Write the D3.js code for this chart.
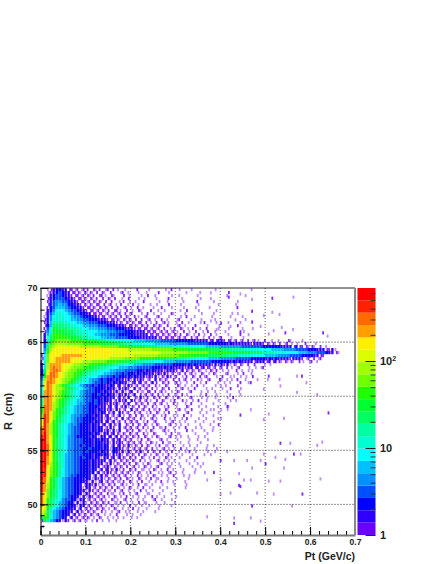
<!DOCTYPE html>
<html>
<head>
<meta charset="utf-8">
<script src="https://cdnjs.cloudflare.com/ajax/libs/d3/7.9.0/d3.min.js"></script>
<style>
  body { margin: 0; background: #fff; }
  text { font-family: "Liberation Sans", Arial, sans-serif; font-weight: bold; fill: #222; }
</style>
</head>
<body>
<div id="chart"></div>
<script>
// colour bands, lowest first
const levelChars = ["1","2","3","4","5","6","7","8","9","a","b","c","d","e","f","g","h","i","j","k"];
const levelColors = ["#6a00ff","#3000ff","#0000ff","#0050ff","#0090ff","#00c0ff","#00ffff","#00ffd0","#00ffa0","#00ff60",
  "#00ff30","#20ff00","#70ff00","#a0ff00","#dcff00","#ffee00","#ffa000","#ff6a00","#ff2000","#ff0000"];

const xTicks = [0, 0.1, 0.2, 0.3, 0.4, 0.5, 0.6, 0.7];
const yTicks = [50, 55, 60, 65, 70];
const zMinor = [2,3,4,5,6,7,8,9,20,30,40,50,60,70,80,90,200,300,400,500,600];
const zMajor = [1, 10, 100];

const ptBin = 0.00667;
const rBin = 0.2773;

// histogram, one string per R row from R=70 down.
// "." empty, "," a faint single count, otherwise the colour band
const rows = [
"..,12332211,1,11.1,1.,1.1,..,...1...,....,.1..,...,.......,...........,",
"..,1234322111,1,1,1.1,.1..,1.,..,..,...1..,.....,....,........1",
"..,2344322111,11,1.11,.1,..1.,...,.1..,....,..,.....,.........,.....,",
"..1234443221111,1,1.1.1,1..,.1..,.,...,...1....,.....,..,",
"..1245544322111,11,1,1.1..,1.,.,..1....,..,....,....1....,.......,",
"..1245655332211,1,11.1,1.,1..,1.,...,.,...1...,.....,......,.....,",
"..1346665433221111,1,1,1.1.,1.,.1.,..,..1..,...,...,....,........1",
"..2357776544322111,11,1.11,.1.,.1,..1..,.,....,.1...,.....,",
".,2468877654433221111,1,1,1.1,1..,.1.,..,..1,...,....,...,.......,",
".,25788877655433322111,1,11.1,.1,.,1..,1..,...,.1..,.....,.....,...,",
".1258888776655443332221111,1,1,1.1.,1.,.1.,..,1...,..,....,.........,",
".12699998877665544433322211,1,1,11.1,.1.,1,..,.1.,...,1...,...,...,",
".136aaa9998877665554443332221111,1,1.1,1,.1..,1.,..1...,...,.....1",
".147baaaa999887766655544433322211111,1,1.1.,1.1,.,1..,.1...,..,....,..,",
".158bbbbaaa9988877766655544433322221111,1,1,1,.1.,.1..,1..,..,.....,",
".269cccbbbaa99887766555444333332222211111,1,1,1.1,.,1.,.1.,...,...1..,",
".27acccccbbbaa9988776655544443333222222111111,1,1.1,1.,.1,.,1..,...,",
".38bcdddddcccccbbbbaaa999888777666655555444443333332222212122111,1,1.1,1,.1..,.,..1,...,",
".49cdeeeedddddccccccbbbbbaaa999888777766666555555444444433333323222222122211,1,1.,1,.,..1..,",
".4adeffffffffeeeeeeeddddddccccbbbbbaaaa99999888888777776666655555554444444333333222212111,1,.1.,",
".5befgggggggggggggggggfffffffeeeeeeeedddddddcccccbbbbbbbbaaaaaa99999888887777666655554444333222112,",
".6cfgggggggggggggggggggggggggfffffffffffeeeeeeeeedddddddccccccccbbbbbbaaaa9999888877776665554443221,",
"17dgggghhhhhhhgggggggggffffffffeeeeeeeedddddddcccccbbbbbaaaaaa999988888777766665555444433332211",
"17dgghhhhhggggggggfffffeeeeedddddcccccbbbbaaaa999888777766665555544444333332323222212221,1.1,1",
"18dgghhhhhgfffeeedddddccccbbbaaa999888777666655555444444433333323232222122212121,1,1,.1,.,1.,",
"28ehhhhggffeedddcccbbbaa998877766655554444443333232322222121212,1,1,.1.1..,.,",
"29ehihhgffedddccbbaa9988776665554444433323232222122121211,1,1.1,.,1..,.,.,1",
"3afhiihgfeddccbaa99887766555444433232322212221,21,1,1,.,1,1.,.,..1.,.,,",
"3bgiihgfeddccba9988776655443433232322212121,1,1.1,1,.1,.,1,..,1..,.1..,",
"4chiihgfeddcba9887765544343323232221212,1,21,1.,1.1,.1,1..,.1..,..,.,.1",
"5ehihgfeddcba98765543433232212,2121,1.21,1,.1.1,1.,.1,.,1..1,.,,.1..,...,..,.",
"6fiihgfedcba98776544343232322,1212,1,21.1,1.,1,.,..1.,.1...,.,.,..1..,",
"6gihgedcba98765443433223212,121,1,1,1.1,.1,..1,.,.,.1.,...,..,...,..",
"7gihfeedcba98765443332322,2121.2,1,1.1,.1,1..,,1.,.1...,.,..,..1..,",
"7hihgedcba9876544433232212,2,12.1,,11.1,1,.,.1,..,1..,.,..,...,...,",
"8hihgedcba987654433432322,2121,2.1,1,1.1,.1.,,.1,....,.1..,....,..,",
"8hihfedcba987654433323222,21,2.1,2,1.1,1.1,.,1,..,1..,.,..,...,.1",
"9hihfdcba987665443432322,1212.21,1,1,.1.1,.,1..1,.,.1..,...,...,.,",
"9hihedcba98765543343221212,1,2.1,1,1.,1,1.,.1,..,.1..,...,...,",
"aiihedcb9876554433322212,2,12,1,1.1,.1,..,1..,..1,..,..,...,..,",
"biihecba9876554433232212,21,1.2,1,1.1,,1.1,..,1.,.1..,...,..,.,",
"ciigdcba987655443322321,2.21,1.1,1.,1.1,.,1..,..,1...,.,...,",
"djigdcb9876554433232212,1,2,.1,1.1,,.1,.,1..,,.1..,...,..,",
"ejigdba98765443333222,21,1.2,1,1.1,.,1,..1.,,..,1...,..,...,",
"fjifcba9876544333232212,2,1.1,1,1.,1.,1..,.,1.,.,..,..,..,",
"gjhecb9876554333232212,21,2.1,1.1,1,.,1,..,1.,,..,...,..,..1",
"hjhecb987654433323232,121.2,1,1,1.1,.1.,,1..,.,.1..,.,...,",
"ijhecb98765443332323212,2,2.1,1.1,.,1,..,1,.,...1.,...,..,",
"ikhecb98765443333232,22121,1,1,,1.1,.1,..,.1.,,....,...,",
"jkhfcb9875543333232,2212,21,1,1,1.1,.,1,..,1.,,..,..,.,",
"jkhfca98755444333232322,212,1,1.,1.1,..,1.,..,...,..,..,",
"kkhfca98755444333233222,2121,1,1,1.,1,,.1.,,..,..,...,",
"kkifca98755443433233232,2121,2,1,1.1,.,1.,,.1..,.,..,..,.,",
"kkifca98755444334333232,3221,1,1,1,1.1,.,1,.,.1.,..,...,..,",
"kkifca98755444343332322,3212,2,1,2,1.1,1.,,1..,.,1.,...,..,...,",
"kkifca98655444333233232,212,1,1,1.1,,.1,,.1..,.,..,...,.,",
"kkhfca98655443433232,2212,21,1,1.1,.,1.,.1,,..,..,..1..",
"kkhfca9865544333232222,21,1,1,1,.1,.,.,1.,,.,...,..,.",
"kkhecb986554433323222,12,1,1,1.1,.,1,..,1.,,..,..,..,.,",
"kkgecb98655443332322,12,1,1,1.,1,.1,,.,1..,,..,...,..,",
"kjgdcb9765544333232,2121,2,1.1,1.,,.,1,.,.1.,..,...,",
"kjgdcb976554433323,2,121,1,1,1,.1,.,1..,,.,1.,.,...,..,",
"kjfdcb97654433332,2,211,1,1,1.,.1,.,.1,.,.,.1..,.,....",
"kifcb986544333232,212,1,1,1.1,,.1,.,1.,,..,..,...,",
"jifcb98654433322,2,12,1,1,,1.1,.,1..,.,.1.,.,...,..",
"jhecb986544332,2212,1,1,1.,1,.,.1.,,.,..,...,...,",
"jhecb986544332,22,11,1,1.1,,.1,.,.1.,..,..,.....,",
"jhdba9765443322,21,1,1,,1.,1.,.,.1.,.,..,...,..",
"igdba976544332,21,1,1.1,,.,1.,.,1..,,..,...,",
"igdba97654332,2,21,1,1,.1,,.1.,.,.,..1,..,...,",
"ifca98754433,22,1,1,1,.1,,.,1.,.,.,..,1.,..,..",
"ifca9865433,2,2,1,1,1,1.,,1.,.,.1.,,..,..,..,",
"hfca97654332,22,1,1,1,.1,,.,.1.,.,..,..,...,",
"gfb976543322,2,11,1,1,,.1,.,.,1.,..,...,..",
"fea96543322,21,1,1,.1,.,.,1.,,..,.,...,",
"edb8654332,21,1,1,,1.,.,.1..,.,..,..",
"acb865432,2,1,11,,.1,.,.,,.,..,.,",
"1b96532,21,1,1,,.,1.,.,..,.",
"",
","
];

// far hits past the main body, read one by one
const sparsePt = [.377,.417,.443,.469,.514,.561,.425,.469,.514,.53,.432,.469,.495,.56,.535,.627,.637,.377,.40,.39,.421,.443,.488,.506,.517,.543,
  .569,.53,.506,.429,.40,.437,.466,.495,.532,.58,.59,.569,.614,.639,.466,.506,.443,.40,.495,.54,.377,.414,
  .625,.614,.532,.554,.577,.543,.562,.521,.621,.581,.517,.558,.532,.469,.488,.429,.429,.466,.369,.399,.421,.443,.48,.451,.469,.499,.506,.488,.399,.429,.44,.466,.384,.369,.399,.44,.458,.495,.54];
const sparseR = [69.7,69.3,69.6,69.1,69.2,69.3,67.8,68.0,67.9,67.7,67.2,67.0,67.6,66.3,66.5,66.0,65.7,67.1,66.9,66.3,66.6,66.1,66.6,65.9,66.2,66.0,
  62.0,61.7,62.0,62.0,61.1,61.1,61.4,60.8,61.1,62.0,61.4,60.5,60.3,58.6,58.9,58.5,58.4,58.1,58.0,58.1,58.9,59.2,
  55.9,55.6,55.8,55.8,54.8,54.3,54.8,54.5,52.5,51.1,51.1,50.0,52.3,50.0,48.6,48.9,48.4,48.9,49.0,51.1,51.2,51.8,51.2,52.4,53.5,53.9,52.3,54.2,54.2,54.2,53.0,52.4,53.1,52.4,52.4,51.9,54.2,54.8,53.5];
const sparseHit = ",1,,1,,1,,,1,,,1,,1,,1,,,1,,1,,,1,,1,,,1,,1,,,,1,,1,,,1,,1,,,1,,1,,,,1,,,1,,1,,,1,,1,,,,1,,1,,,1,,,1,,,1,,1,,";

// the real bins are about half my string cell wide, so thin hits sit at one of these spots inside it
const subBin = [0, 0.42, 0.14, 0.56];

const width = 436, height = 564;
const margin = { left: 40.5, right: 81, top: 288, bottom: 29 };

const svg = d3.select("#chart").append("svg")
  .attr("width", width)
  .attr("height", height)
  .style("display", "block");

const x = d3.scaleLinear().domain([0, 0.7]).range([margin.left, width - margin.right]);
const y = d3.scaleLinear().domain([47.17, 70]).range([height - margin.bottom, margin.top]);
const color = d3.scaleOrdinal().domain(levelChars).range(levelColors);

// one entry per filled bin
const cells = rows.flatMap((row, j) =>
  row.split("").map((ch, i) => {
    const thin = ch === "," || ch === "1";
    const shift = thin ? subBin[(i * 3 + j) % 4] : 0;
    return { ch, pt: (i + shift) * ptBin, r: 70 - j * rBin };
  }).filter(d => d.ch !== ".")
).concat(sparsePt.map((pt, i) => ({ ch: sparseHit[i] || ",", pt, r: sparseR[i] })));

// low counts show up as thin dashes, not full bins
const binWidth = d => (d.ch === "," || d.ch === "1") ? 1.8 : d.ch === "2" ? 2.4 : x(ptBin) - x(0);

svg.append("g")
  .selectAll("rect")
  .data(cells)
  .join("rect")
    .attr("x", d => x(d.pt))
    .attr("y", d => y(d.r))
    .attr("width", binWidth)
    .attr("height", (y(70 - rBin) - y(70)) + 0.2)
    .attr("fill", d => d.ch === "," ? levelColors[0] : color(d.ch))
    .attr("fill-opacity", d => d.ch === "," ? 0.45 : d.ch === "1" ? 0.85 : 1);

// dotted grid sits on top of the histogram
const grid = svg.append("g").attr("stroke", "#000").attr("stroke-dasharray", "1,2").attr("stroke-width", 1);
grid.selectAll(".gx").data(xTicks.slice(1, -1)).join("line")
  .attr("stroke-opacity", 0.6)
  .attr("x1", d => x(d)).attr("x2", d => x(d))
  .attr("y1", y.range()[0]).attr("y2", y.range()[1]);
grid.selectAll(".gy").data(yTicks.slice(0, -1)).join("line")
  .attr("stroke-opacity", 0.85)
  .attr("y1", d => y(d)).attr("y2", d => y(d))
  .attr("x1", x.range()[0]).attr("x2", x.range()[1]);

// x axis
svg.append("g")
  .attr("transform", `translate(0,${y.range()[0]})`)
  .call(d3.axisBottom(x).tickValues(d3.range(0, 71, 2).map(d => d / 100)).tickSize(-4).tickFormat(""))
  .call(g => g.select(".domain").remove());
const xAxis = svg.append("g")
  .attr("transform", `translate(0,${y.range()[0]})`)
  .call(d3.axisBottom(x).tickValues(xTicks).tickSizeInner(-8).tickSizeOuter(0).tickPadding(4)
    .tickFormat(d => d === 0 ? "0" : d3.format(".1f")(d)));
xAxis.select(".domain").attr("stroke", "#777").attr("stroke-width", 2);
xAxis.selectAll("text").attr("font-size", 8.5).style("font-family", "Liberation Sans");

// y axis
svg.append("g")
  .attr("transform", `translate(${x.range()[0]},0)`)
  .call(d3.axisLeft(y).tickValues(d3.range(48, 71)).tickSize(-4).tickFormat(""))
  .call(g => g.select(".domain").remove());
const yAxis = svg.append("g")
  .attr("transform", `translate(${x.range()[0]},0)`)
  .call(d3.axisLeft(y).tickValues(yTicks).tickSizeInner(-8).tickSizeOuter(0).tickPadding(3));
yAxis.selectAll("text").attr("font-size", 9).style("font-family", "Liberation Sans");

// frame
svg.append("line").attr("x1", x.range()[0]).attr("x2", x.range()[1])
  .attr("y1", y.range()[1]).attr("y2", y.range()[1]).attr("stroke", "#222");
svg.append("line").attr("x1", x.range()[1]).attr("x2", x.range()[1])
  .attr("y1", y.range()[1]).attr("y2", y.range()[0]).attr("stroke", "#888").attr("stroke-width", 2);

// axis titles
svg.append("text").text("Pt (GeV/c)")
  .attr("x", 355).attr("y", 560).attr("text-anchor", "end").attr("font-size", 10.5);
svg.append("text").text("R  (cm)").attr("xml:space", "preserve").style("white-space", "pre")
  .attr("transform", "translate(12,430) rotate(-90)").attr("font-size", 11);

// palette
const band = d3.scaleBand().domain(levelChars).range([535, 288]);
svg.append("g").selectAll("rect").data(levelChars).join("rect")
  .attr("x", 357.5).attr("width", 18)
  .attr("y", d => band(d)).attr("height", band.bandwidth())
  .attr("fill", d => color(d));

const z = d3.scaleLog().domain([1, 690]).range([535, 288]);
svg.append("g").attr("transform", "translate(375.5,0)")
  .call(d3.axisRight(z).tickValues(zMinor).tickSize(-5).tickFormat(""))
  .call(g => g.select(".domain").remove())
  .call(g => g.selectAll("line").attr("stroke", "#333"));
svg.append("g").attr("transform", "translate(375.5,0)")
  .call(d3.axisRight(z).tickValues(zMajor).tickSize(-10).tickFormat(""))
  .call(g => g.select(".domain").remove())
  .call(g => g.selectAll("line").attr("stroke", "#222"));

const zLabels = svg.append("g").attr("font-size", 11);
zLabels.append("text").text("1").attr("x", 380).attr("y", z(1) + 4);
zLabels.append("text").text("10").attr("x", 380).attr("y", z(10) + 4);
const hundred = zLabels.append("text").attr("x", 380).attr("y", z(100) + 4);
hundred.append("tspan").text("10");
hundred.append("tspan").text("2").attr("font-size", 7).attr("dy", -4);
</script>
</body>
</html>
